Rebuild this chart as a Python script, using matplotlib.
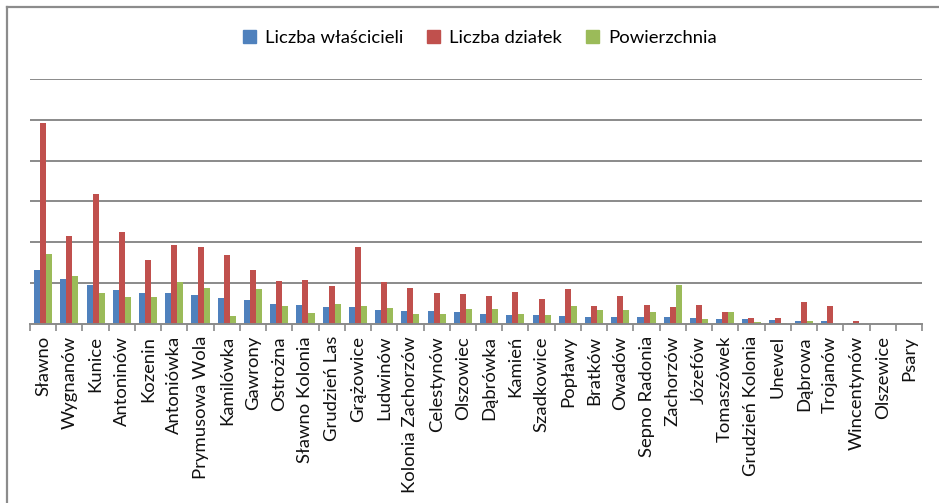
import numpy as np
import matplotlib.pyplot as plt
from matplotlib.lines import Line2D
from matplotlib.patches import Patch

plt.rcParams['font.family'] = ['Lato', 'DejaVu Sans']

villages = ['Sławno', 'Wygnanów', 'Kunice', 'Antoninów', 'Kozenin', 'Antoniówka',
            'Prymusowa Wola', 'Kamilówka', 'Gawrony', 'Ostrożna', 'Sławno Kolonia',
            'Grudzień Las', 'Grążowice', 'Ludwinów', 'Kolonia Zachorzów', 'Celestynów',
            'Olszowiec', 'Dąbrówka', 'Kamień', 'Szadkowice', 'Popławy', 'Bratków',
            'Owadów', 'Sepno Radonia', 'Zachorzów', 'Józefów', 'Tomaszówek',
            'Grudzień Kolonia', 'Unewel', 'Dąbrowa', 'Trojanów', 'Wincentynów',
            'Olszewice', 'Psary']

# values (one gridline = 50)
wlasciciele = [66, 55, 47, 41, 38, 37, 35, 31, 29, 24, 23,
               20, 20, 17, 15, 15, 14, 12, 11, 11, 9, 8,
               8, 8, 8, 7, 6, 5, 4, 3, 3, 1, 0, 0]
dzialki = [246, 108, 159, 112, 78, 97, 94, 84, 66, 52, 53,
           46, 94, 51, 43, 37, 36, 34, 39, 30, 42, 22,
           34, 23, 20, 23, 14, 7, 7, 26, 22, 3, 0, 0]
powierzchnia = [85, 58, 38, 32, 33, 51, 44, 9, 42, 21, 13,
                24, 21, 19, 12, 12, 18, 18, 12, 10, 21, 17,
                16, 14, 47, 5, 14, 2, 1, 3, 0, 0, 0, 0]

series = [('Liczba właścicieli', wlasciciele, '#4F81BD'),
          ('Liczba działek', dzialki, '#C0504D'),
          ('Powierzchnia', powierzchnia, '#9BBB59')]

fig = plt.figure(figsize=(9.39, 5.03), dpi=100)
W, H = 939, 503
ax = fig.add_axes([30 / W, 1 - 323.5 / H, (922 - 30) / W, (323.5 - 79.3) / H])

x = np.arange(len(villages))
bw = 0.23
for i, (name, vals, col) in enumerate(series):
    ax.bar(x + (i - 1) * bw, vals, bw, color=col, edgecolor='none', zorder=3)

ax.set_xlim(-0.5, len(villages) - 0.5)
ax.set_ylim(0, 300)
ax.set_yticks(np.arange(50, 301, 50))
ax.tick_params(axis='y', length=0, labelleft=False)
ax.yaxis.grid(True, color='#8a8a8a', linewidth=1.4, zorder=0)
for s in ['left', 'right', 'top']:
    ax.spines[s].set_visible(False)
ax.spines['bottom'].set_color('#8a8a8a')
ax.spines['bottom'].set_linewidth(1.4)
ax.spines['bottom'].set_zorder(4)

ax.set_xticks(x)
ax.set_xticklabels(villages, rotation=90, fontsize=13.3, color='#111111')
ax.tick_params(axis='x', which='major', length=0, pad=9)
ax.set_xticks(np.arange(-0.5, len(villages)), minor=True)
ax.tick_params(axis='x', which='minor', length=5, width=1.2, color='#8a8a8a', direction='out')

handles = [Patch(color=c, label=n) for n, v, c in series]
fig.legend(handles=handles, loc='center', bbox_to_anchor=(480 / W, 1 - 38 / H), ncol=3,
           frameon=False, fontsize=13.3, handlelength=0.7, handleheight=0.7,
           handletextpad=0.5, columnspacing=1.3)

# outer chart border (left and top edges visible)
fig.add_artist(Line2D([7 / W, 7 / W], [0, 1 - 7 / H], color='#8c8c8c', linewidth=1.6))
fig.add_artist(Line2D([7 / W, 1], [1 - 7 / H, 1 - 7 / H], color='#8c8c8c', linewidth=1.6))

fig.savefig('out.png', dpi=100)
